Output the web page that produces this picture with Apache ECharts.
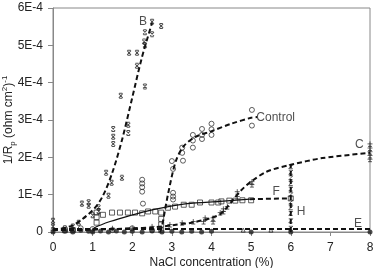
<!DOCTYPE html>
<html>
<head>
<meta charset="utf-8">
<script src="https://cdn.jsdelivr.net/npm/echarts@6/dist/echarts.min.js"></script>
<style>
  html, body { margin: 0; padding: 0; background: #fff; }
  #chart { width: 374px; height: 268px; }
</style>
</head>
<body>
<div id="chart"></div>
<script>
// values in units of 1E-4 (ohm cm2)^-1, x in % NaCl
var xTicks = [0, 1, 2, 3, 4, 5, 6, 7, 8];
var yTicks = [0, 1, 2, 3, 4, 5, 6];

var pointsB = [[0,0.15],[0,0.3],[0.3,0.1],[0.5,0.15],[0.65,0.25],[0.73,0.76],[0.9,0.8],[0.9,0.7],
  [1.0,0.45],[1.15,0.66],[1.15,0.56],[1.4,0.97],[1.48,1.32],[1.34,1.59],[1.74,1.45],
  [1.52,2.76],[1.52,2.55],[1.52,2.36],[1.71,3.65],[1.9,2.87],[1.9,2.65],[1.92,4.8],[2.12,4.8],
  [2.12,4.45],[2.32,3.9],[2.3,5.1],[2.32,5.0],[2.32,5.35],[2.5,5.3],[2.5,5.63],[2.73,5.52]];
var pointsControl = [[0.3,0.05],[0.5,0.05],[0.7,0.1],[1.0,0.08],[1.5,0.05],[2.0,0.1],[2.5,0.05],
  [2.25,1.4],[2.25,1.3],[2.25,1.2],[2.25,1.08],[2.27,0.76],[3.0,1.9],[3.03,1.69],[3.03,0.87],
  [3.03,1.05],[3.03,0.95],[3.26,2.26],[3.26,2.12],[3.28,1.91],[3.53,2.6],[3.53,2.45],[3.53,2.26],
  [3.76,2.76],[3.76,2.6],[3.76,2.49],[4.0,2.9],[4.0,2.75],[4.0,2.6],[5.02,3.27],[5.02,2.85]];
var pointsC = [[0,0.05],[0.5,0.08],[1,0.05],[1.5,0.1],[2,0.1],[2.5,0.15],[2.95,0.2],[3.26,0.25],
  [3.54,0.28],[3.8,0.28],[3.84,0.38],[4.04,0.38],[4.04,0.28],[4.22,0.52],[4.3,0.62],[4.3,0.55],
  [4.4,0.68],[4.65,1.08],[4.65,0.95],[5.02,1.35],[5.02,1.27],
  [8,2.36],[8,2.25],[8,2.15],[8,2.05],[8,1.95]];
var pointsH = [[6,0.1],[6,0.3],[6,0.5],[6,0.65],[6,0.8],[6,1.0],[6,1.15],[6,1.3],[6,1.45],[6,1.6],[6,1.75]];
var pointsF = [[0.3,0.05],[0.5,0.05],[1.1,0.52],[1.1,0.4],[1.1,0.25],[1.26,0.46],[1.49,0.52],
  [1.69,0.52],[1.89,0.52],[2.07,0.52],[2.25,0.5],[2.4,0.55],[2.58,0.55],[2.73,0.52],[2.73,0.35],
  [2.73,0.2],[2.73,0.05],[2.9,0.65],[3.08,0.68],[3.3,0.73],[3.5,0.73],[3.71,0.79],[4.0,0.79],
  [4.17,0.79],[4.25,0.82],[4.45,0.84],[4.6,0.84],[4.78,0.85],[5.0,0.85],[6.0,0.9]];
var pointsE = [[0,0],[0.3,0.02],[0.5,0],[0.7,0.05],[0.9,0.02],[1.0,0],[1.2,0.03],[1.4,0],[1.6,0.03],
  [1.8,0],[2.0,0.02],[2.25,0],[2.5,0.03],[2.75,0],[3.0,0.02],[3.25,0],[3.5,0.02],[3.75,0],
  [4.0,0.02],[5.0,0],[6.0,0],[8.0,0]];
var pointsTri = [[4.8,0.05],[5.5,0.05]];

// fitted curves
var fitB = [[0,0.05],[0.5,0.18],[1,0.58],[1.25,0.95],[1.5,1.6],[1.75,2.5],[2,3.6],[2.25,4.7],[2.5,5.6]];
var fitControl = [[2.7,0],[2.75,0.15],[2.9,1.0],[3.1,1.9],[3.3,2.3],[3.6,2.55],[4.0,2.7],[4.5,2.9],[5.0,3.06],[5.15,3.08]];
var fitC = [[0,0.05],[1,0.06],[2,0.1],[2.5,0.12],[3.0,0.18],[3.5,0.25],[4.0,0.38],[4.25,0.5],
  [4.55,0.87],[4.75,1.12],[5.0,1.35],[5.4,1.62],[6.0,1.8],[6.8,1.98],[8,2.12]];
var fitFsolid = [[1.0,0.05],[1.06,0.12],[1.44,0.28],[1.94,0.44],[2.53,0.6],[3.38,0.76],[4.22,0.82],[4.97,0.88]];
var fitFdash = [[4.97,0.88],[5.95,0.9]];
var fitH = [[6,0],[6,1.8]];
var fitE = [[0,0.08],[8,0.08]];

var curveLabels = [[2.27,5.63,'B'],[5.62,3.07,'Control'],[7.73,2.34,'C'],[5.63,1.08,'F'],[6.26,0.54,'H'],[7.7,0.22,'E']];

var font = 'Liberation Sans, Arial, sans-serif';
var ink = '#222';
var symX = 'path://M2,0L8,0M2,12L8,12M1,1L9,11M9,1L1,11';
var symPlus = 'path://M5,0L5,10M0,5L10,5M1,10L9,10';
var symZ = 'path://M0,0L8,0L0,8L8,8';

function markers(data, symbol, size, filled) {
  return {
    type: 'scatter', data: data, symbol: symbol, symbolSize: size, z: 2,
    itemStyle: filled ? { color: ink } : { color: 'transparent', borderColor: ink, borderWidth: 0.9 }
  };
}
function fit(data, dashed, smooth) {
  return {
    type: 'line', data: data, showSymbol: false, symbol: 'none', smooth: smooth ? 0.3 : false, z: 3,
    lineStyle: { color: '#111', width: dashed ? 2 : 1.2, type: dashed ? [5, 3] : 'solid' }
  };
}

var chart = echarts.init(document.getElementById('chart'));
chart.setOption({
  animation: false,
  grid: {
    left: 53, right: 4, top: 8, bottom: 36, containLabel: false, outerBoundsMode: 'none',
    show: true, borderColor: '#888', borderWidth: 1
  },
  xAxis: {
    type: 'value', min: 0, max: 8, interval: 1,
    name: 'NaCl concentration (%)', nameLocation: 'middle', nameGap: 25, nameMoveOverlap: false,
    nameTextStyle: { fontFamily: font, fontSize: 12, color: ink },
    axisLine: { lineStyle: { color: '#888' } },
    axisTick: { show: true, length: 4, lineStyle: { color: '#888' } },
    axisLabel: { fontFamily: font, fontSize: 12, color: ink, margin: 10 },
    splitLine: { show: false }
  },
  yAxis: {
    type: 'value', min: 0, max: 6, interval: 1,
    name: '1/R{sub|p} (ohm cm{sup|2}){sup|-1}', nameLocation: 'middle', nameGap: 36, nameMoveOverlap: false,
    nameTextStyle: {
      fontFamily: font, fontSize: 12, color: ink, lineHeight: 16,
      rich: {
        sub: { fontFamily: font, fontSize: 8, color: ink, verticalAlign: 'bottom', lineHeight: 16 },
        sup: { fontFamily: font, fontSize: 8, color: ink, verticalAlign: 'top', lineHeight: 12 }
      }
    },
    axisLine: { show: true, lineStyle: { color: '#888' } },
    axisTick: { show: true, length: 5, lineStyle: { color: '#888' } },
    axisLabel: {
      fontFamily: font, fontSize: 12, color: ink, margin: 10,
      formatter: function (v) { return v === 0 ? '0' : v + 'E-4'; }
    },
    splitLine: { show: false }
  },
  series: [
    markers(pointsB, symX, [4, 5], false),
    markers(pointsControl, 'circle', 5, false),
    markers(pointsC, symPlus, [5, 5], false),
    markers(pointsH, symZ, [4, 4], false),
    markers(pointsF, 'rect', 5, false),
    markers(pointsE, 'circle', 5, true),
    markers(pointsTri, 'triangle', 4, false),
    fit(fitB, true, true),
    fit(fitControl, true, true),
    fit(fitC, true, true),
    fit(fitFsolid, false, true),
    fit(fitFdash, true, false),
    fit(fitH, true, false),
    fit(fitE, true, false),
    {
      type: 'scatter', data: curveLabels, symbolSize: 1, z: 4,
      itemStyle: { color: 'transparent' },
      label: {
        show: true, position: 'inside', fontFamily: font, fontSize: 12, color: ink,
        formatter: function (p) { return p.data[2]; }
      }
    }
  ]
});
</script>
</body>
</html>
